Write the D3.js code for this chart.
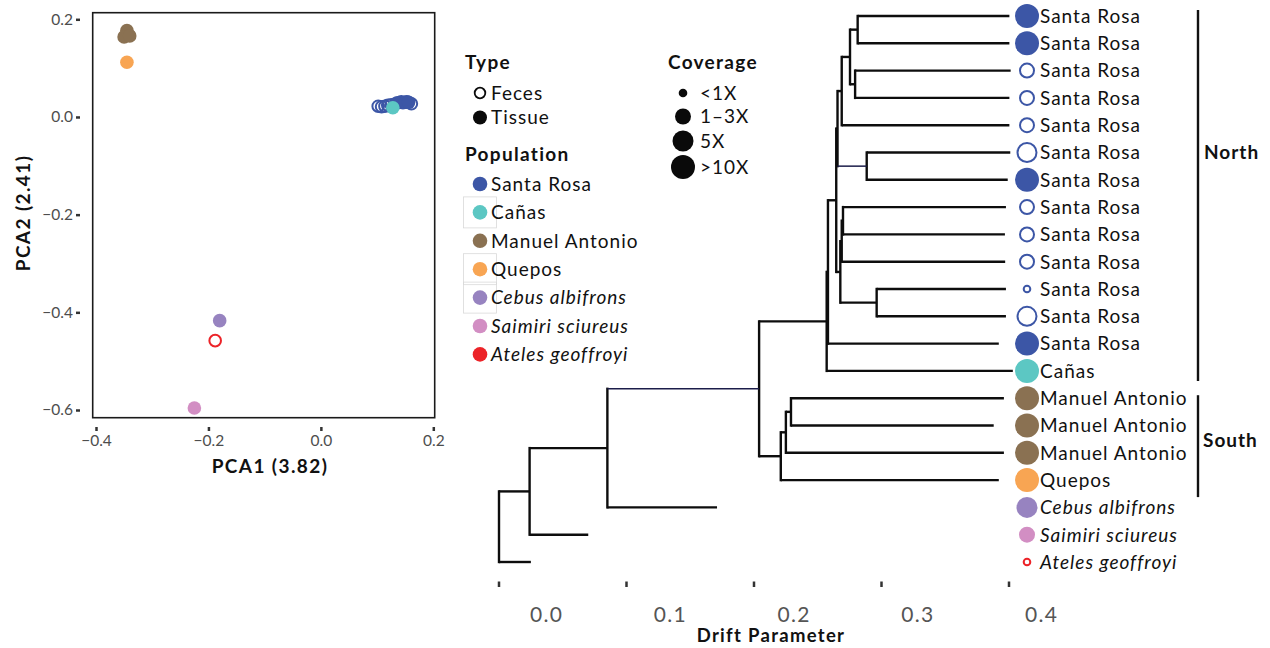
<!DOCTYPE html>
<html>
<head>
<meta charset="utf-8">
<script src="https://cdn.jsdelivr.net/npm/d3@7"></script>
<style>
body { margin: 0; background: #fff; }
text { font-family: Lato, "Open Sans", sans-serif; }
</style>
</head>
<body>
<svg id="chart" width="1270" height="648"></svg>
<script>
// ---- data ----
var populations = ["Santa Rosa", "Cañas", "Manuel Antonio", "Quepos", "Cebus albifrons", "Saimiri sciureus", "Ateles geoffroyi"];
var popColors = ["#3c56a6", "#5cc7c3", "#8a7152", "#f8a553", "#9783c0", "#d28ec3", "#ec2328"];
var italicPops = ["Cebus albifrons", "Saimiri sciureus", "Ateles geoffroyi"];
var sampleTypes = ["Feces", "Tissue"];
var coverageLevels = ["<1X", "1–3X", "5X", ">10X"];

// PCA samples
var pcaPop = ["Santa Rosa", "Santa Rosa", "Santa Rosa", "Santa Rosa", "Santa Rosa", "Santa Rosa", "Santa Rosa", "Santa Rosa", "Santa Rosa",
  "Santa Rosa", "Santa Rosa", "Santa Rosa", "Santa Rosa", "Cañas",
  "Manuel Antonio", "Manuel Antonio", "Manuel Antonio", "Quepos",
  "Cebus albifrons", "Ateles geoffroyi", "Saimiri sciureus"];
var pcaType = ["Feces", "Feces", "Feces", "Feces", "Feces", "Feces", "Feces", "Feces", "Feces",
  "Tissue", "Tissue", "Tissue", "Tissue", "Tissue",
  "Tissue", "Tissue", "Tissue", "Tissue",
  "Tissue", "Feces", "Tissue"];
var pca1 = [0.102, 0.108, 0.114, 0.119, 0.125, 0.133, 0.146, 0.153, 0.161,
  0.136, 0.143, 0.150, 0.156, 0.128,
  -0.345, -0.350, -0.340, -0.345,
  -0.180, -0.188, -0.225];
var pca2 = [0.022, 0.021, 0.022, 0.024, 0.025, 0.027, 0.029, 0.031, 0.027,
  0.029, 0.031, 0.030, 0.030, 0.019,
  0.177, 0.164, 0.166, 0.112,
  -0.417, -0.458, -0.596];
var pcaXTicks = [-0.4, -0.2, 0.0, 0.2];
var pcaYTicks = [0.2, 0.0, -0.2, -0.4, -0.6];

// tree leaves, top to bottom
var leafIds = ["SR1", "SR2", "SR3", "SR4", "SR5", "SR6", "SR7", "SR8", "SR9", "SR10", "SR11", "SR12", "SR13",
  "Canas", "MA1", "MA2", "MA3", "Quepos", "Cebus", "Saimiri", "Ateles"];
var leafPop = ["Santa Rosa", "Santa Rosa", "Santa Rosa", "Santa Rosa", "Santa Rosa", "Santa Rosa", "Santa Rosa",
  "Santa Rosa", "Santa Rosa", "Santa Rosa", "Santa Rosa", "Santa Rosa", "Santa Rosa",
  "Cañas", "Manuel Antonio", "Manuel Antonio", "Manuel Antonio", "Quepos",
  "Cebus albifrons", "Saimiri sciureus", "Ateles geoffroyi"];
var leafType = ["Tissue", "Tissue", "Feces", "Feces", "Feces", "Feces", "Tissue",
  "Feces", "Feces", "Feces", "Feces", "Feces", "Tissue",
  "Tissue", "Tissue", "Tissue", "Tissue", "Tissue",
  "Tissue", "Tissue", "Feces"];
var leafCoverage = [">10X", ">10X", "1–3X", "1–3X", "1–3X", "5X", ">10X",
  "1–3X", "1–3X", "1–3X", "<1X", "5X", ">10X",
  ">10X", ">10X", ">10X", ">10X", ">10X",
  "5X", "1–3X", "<1X"];

// [node, parent, branch length (drift)]
var treeEdges = [
  ["root", "", 0],
  ["nA", "root", 0.024], ["Ateles", "root", 0.025],
  ["nB", "nA", 0.061], ["Saimiri", "nA", 0.046],
  ["nD", "nB", 0.119], ["Cebus", "nB", 0.086],
  ["nN", "nD", 0.053], ["nS", "nD", 0.017],
  ["p5", "nN", 0.001], ["Canas", "nN", 0.146],
  ["p4", "p5", 0.0065], ["SR13", "p5", 0.134],
  ["n6", "p4", 0.001], ["p3", "p4", 0.0032],
  ["n4", "n6", 0.0033], ["n5", "n6", 0.0229],
  ["n3", "n4", 0.0065], ["SR5", "n4", 0.1315],
  ["n1", "n3", 0.006], ["n2", "n3", 0.004],
  ["SR1", "n1", 0.119], ["SR2", "n1", 0.119],
  ["SR3", "n2", 0.122], ["SR4", "n2", 0.121],
  ["SR6", "n5", 0.1126], ["SR7", "n5", 0.1106],
  ["p2", "p3", 0.0011], ["n8", "p3", 0.0285],
  ["p1", "p2", 0.001], ["SR10", "p2", 0.1282],
  ["SR8", "p1", 0.1278], ["SR9", "p1", 0.127],
  ["SR11", "n8", 0.1014], ["SR12", "n8", 0.1014],
  ["nB2", "nS", 0.004], ["Quepos", "nS", 0.171],
  ["nA2", "nB2", 0.004], ["MA3", "nB2", 0.171],
  ["MA1", "nA2", 0.167], ["MA2", "nA2", 0.159]
];
var thinEdges = ["n5", "nD"];
var driftTicks = [0, 0.1, 0.2, 0.3, 0.4];

// ---- setup ----
var svg = d3.select("#chart");
svg.append("rect").attr("width", 1270).attr("height", 648).attr("fill", "#fff");

var color = d3.scaleOrdinal(populations, popColors);
var covRadius = d3.scaleOrdinal(coverageLevels, [4.3, 8, 10.5, 12]);
var fmt = d3.format(".1f");

// text helpers
function label(sel){ return sel.style("font-size", "19px").style("letter-spacing", "1px"); }
function heading(sel){ return sel.style("font-size", "19px").style("font-weight", "bold").style("letter-spacing", "1.3px"); }

// ---- PCA panel ----
var px = d3.scaleLinear().domain([-0.4, 0.2]).range([96, 433.3]);
var py = d3.scaleLinear().domain([0.2, -0.6]).range([19.3, 410]);

var pca = svg.append("g");
pca.append("rect")
  .attr("x", 92.7).attr("y", 12.7).attr("width", 342).attr("height", 405)
  .attr("fill", "none").attr("stroke", "#1a1a1a").attr("stroke-width", 1.6);

var yAx = pca.append("g").attr("transform", "translate(80,0)")
  .call(d3.axisLeft(py).tickValues(pcaYTicks).tickFormat(fmt).tickSize(4).tickPadding(3));
var xAx = pca.append("g").attr("transform", "translate(0,427)")
  .call(d3.axisBottom(px).tickValues(pcaXTicks).tickFormat(fmt).tickSize(4).tickPadding(4));
[yAx, xAx].forEach(function(a){
  a.select(".domain").remove();
  a.selectAll(".tick line").attr("stroke", "#333").attr("stroke-width", 2.5);
  a.selectAll(".tick text").attr("fill", "#4d4d4d").style("font-size", "15.5px").style("font-family", "Lato, sans-serif");
});

pca.append("text").attr("x", 270).attr("y", 473).attr("text-anchor", "middle").attr("fill", "#111")
  .call(heading).style("letter-spacing", "1.4px").text("PCA1 (3.82)");
pca.append("text").attr("transform", "translate(30,213) rotate(-90)").attr("text-anchor", "middle").attr("fill", "#111")
  .call(heading).style("letter-spacing", "1.4px").text("PCA2 (2.41)");

pca.selectAll("circle.pt").data(d3.range(pca1.length)).enter().append("circle")
  .attr("class", "pt")
  .attr("cx", function(i){ return px(pca1[i]); })
  .attr("cy", function(i){ return py(pca2[i]); })
  .attr("r", function(i){ return pcaType[i] == "Feces" ? 5.8 : 6.8; })
  .attr("fill", function(i){ return pcaType[i] == "Feces" ? "none" : color(pcaPop[i]); })
  .attr("stroke", function(i){ return pcaType[i] == "Feces" ? color(pcaPop[i]) : "none"; })
  .attr("stroke-width", 2);

// ---- legends ----
var leg = svg.append("g").attr("fill", "#111");
leg.append("text").attr("x", 465).attr("y", 69).call(heading).text("Type");
leg.selectAll("g.type").data(sampleTypes).enter().append("g").attr("class", "type")
  .each(function(t, i){
    var g = d3.select(this), yy = 93 + i * 24.5;
    g.append("circle").attr("cx", 480).attr("cy", yy)
      .attr("r", t == "Feces" ? 5.3 : 7)
      .attr("fill", t == "Feces" ? "none" : "#0a0a0a")
      .attr("stroke", t == "Feces" ? "#0a0a0a" : "none").attr("stroke-width", 1.8);
    g.append("text").attr("x", 491).attr("y", yy).attr("dy", "0.36em").call(label).text(t);
  });

leg.append("text").attr("x", 465).attr("y", 161).call(heading).text("Population");
var boxed = ["Cañas", "Quepos", "Cebus albifrons"];
leg.selectAll("g.pop").data(populations).enter().append("g").attr("class", "pop")
  .each(function(p, i){
    var g = d3.select(this), yy = 184 + i * 28.4;
    if (boxed.indexOf(p) >= 0)
      g.append("rect").attr("x", 463.5).attr("y", yy - 15.5).attr("width", 33).attr("height", 31)
        .attr("fill", "none").attr("stroke", "#d9d9d9").attr("stroke-width", 0.8);
    g.append("circle").attr("cx", 480).attr("cy", yy).attr("r", 7.3).attr("fill", color(p));
    g.append("text").attr("x", 491).attr("y", yy).attr("dy", "0.36em").call(label)
      .style("font-style", italicPops.indexOf(p) >= 0 ? "italic" : "normal").text(p);
  });

leg.append("text").attr("x", 668).attr("y", 69).call(heading).text("Coverage");
leg.selectAll("g.cov").data(coverageLevels).enter().append("g").attr("class", "cov")
  .each(function(c, i){
    var g = d3.select(this), yy = [93, 116.5, 141, 167][i];
    g.append("circle").attr("cx", 683).attr("cy", yy).attr("r", covRadius(c)).attr("fill", "#0a0a0a");
    g.append("text").attr("x", 700).attr("y", yy).attr("dy", "0.36em").call(label).text(c);
  });

// ---- tree ----
var tx = d3.scaleLinear().domain([0, 0.4]).range([499, 1009]);
var ty = d3.scalePoint().domain(leafIds).range([16, 562]);
var labelX = d3.scaleLinear().domain([0, 0.4]).range([546.7, 1041.7]);

var root = d3.stratify().id(function(d){ return d[0]; }).parentId(function(d){ return d[1]; })(treeEdges);
root.eachBefore(function(n){ n.drift = n.parent ? n.parent.drift + n.data[2] : 0; });
root.eachAfter(function(n){
  if (!n.children) n.yy = ty(n.id);
  else {
    var ys = n.children.map(function(c){ return c.yy; });
    n.yy = (d3.min(ys) + d3.max(ys)) / 2;
  }
});

var tree = svg.append("g").attr("fill", "none").attr("stroke-linecap", "square");
tree.selectAll("path.v").data(root.descendants().filter(function(n){ return n.children; })).enter().append("path")
  .attr("class", "v")
  .attr("d", function(n){
    var ys = n.children.map(function(c){ return c.yy; });
    return "M" + tx(n.drift) + "," + d3.min(ys) + "V" + d3.max(ys);
  })
  .attr("stroke", "#0d0d0d").attr("stroke-width", 2.4);
tree.selectAll("path.h").data(root.descendants().filter(function(n){ return n.parent; })).enter().append("path")
  .attr("class", "h")
  .attr("d", function(n){ return "M" + tx(n.parent.drift) + "," + n.yy + "H" + tx(n.drift); })
  .attr("stroke", function(n){ return thinEdges.indexOf(n.id) >= 0 ? "#1c1d4a" : "#0d0d0d"; })
  .attr("stroke-width", function(n){ return thinEdges.indexOf(n.id) >= 0 ? 1.5 : 2.4; })
  .attr("stroke-linecap", "butt");

// leaf symbols and labels
var leaves = svg.append("g");
leaves.selectAll("g.leaf").data(leafIds).enter().append("g").attr("class", "leaf")
  .each(function(id, i){
    var g = d3.select(this), yy = ty(id), R = covRadius(leafCoverage[i]), open = leafType[i] == "Feces";
    g.append("circle").attr("cx", 1027).attr("cy", yy)
      .attr("r", open ? R - 1 : R)
      .attr("fill", open ? "#fff" : color(leafPop[i]))
      .attr("stroke", open ? color(leafPop[i]) : "none").attr("stroke-width", 2);
    g.append("text").attr("x", 1040).attr("y", yy).attr("dy", "0.36em").attr("fill", "#111")
      .call(label)
      .style("font-style", italicPops.indexOf(leafPop[i]) >= 0 ? "italic" : "normal")
      .text(leafPop[i]);
  });

// region brackets
var north = [ty("SR1") - 6, ty("Canas") + 10], south = [ty("MA1") - 3, ty("Quepos") + 17];
svg.append("line").attr("x1", 1198).attr("x2", 1198).attr("y1", north[0]).attr("y2", north[1])
  .attr("stroke", "#111").attr("stroke-width", 2.4);
svg.append("line").attr("x1", 1198).attr("x2", 1198).attr("y1", south[0]).attr("y2", south[1])
  .attr("stroke", "#111").attr("stroke-width", 2.4);
svg.append("text").attr("x", 1204).attr("y", 152).attr("dy", "0.36em").attr("fill", "#111")
  .call(heading).style("letter-spacing", "1px").text("North");
svg.append("text").attr("x", 1203).attr("y", 440).attr("dy", "0.36em").attr("fill", "#111")
  .call(heading).style("letter-spacing", "1px").text("South");

// drift axis
var ax = svg.append("g");
ax.selectAll("line").data(driftTicks).enter().append("line")
  .attr("x1", function(d){ return tx(d); }).attr("x2", function(d){ return tx(d); })
  .attr("y1", 581.5).attr("y2", 587).attr("stroke", "#333").attr("stroke-width", 2.5);
ax.selectAll("text").data(driftTicks).enter().append("text")
  .attr("x", function(d){ return labelX(d); }).attr("y", 614).attr("dy", "0.36em")
  .attr("text-anchor", "middle").attr("fill", "#555").style("font-size", "21px").style("letter-spacing", "1.4px")
  .text(fmt);
svg.append("text").attr("x", 771).attr("y", 635).attr("dy", "0.36em").attr("text-anchor", "middle")
  .attr("fill", "#111").style("font-size", "18.5px").style("font-weight", "bold").style("letter-spacing", "1.3px")
  .text("Drift Parameter");
</script>
</body>
</html>
